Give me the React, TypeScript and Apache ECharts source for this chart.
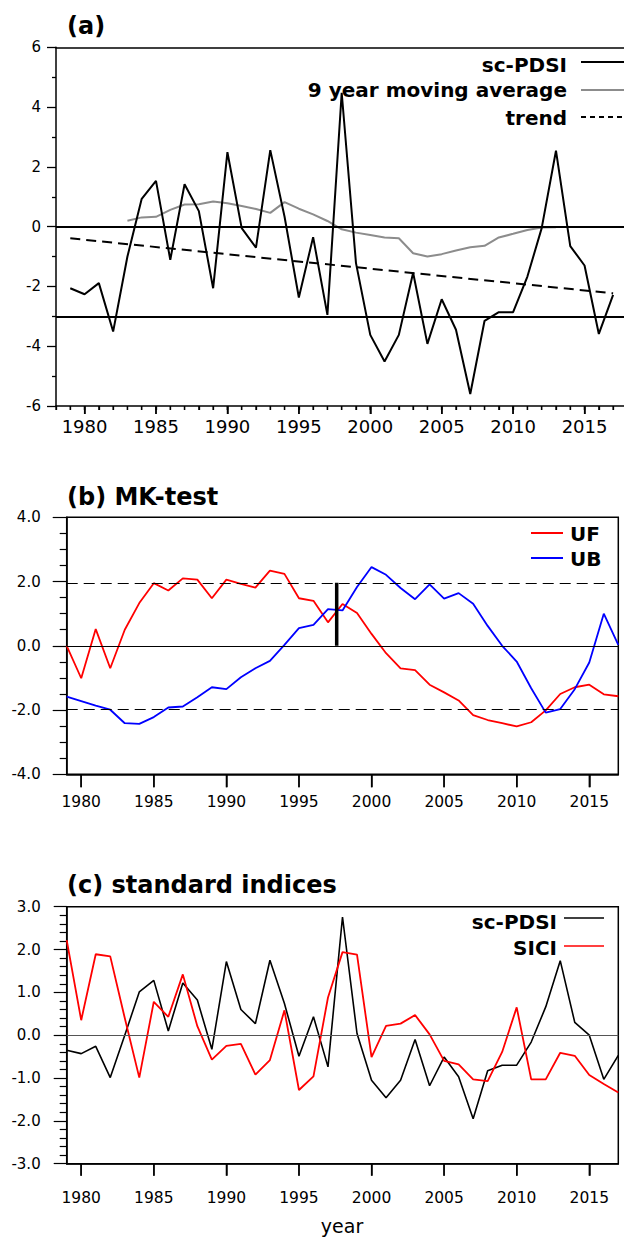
import React, { useEffect, useRef } from "react";
import * as echarts from "echarts";

// ---------- data ----------
const years = [
  1979, 1980, 1981, 1982, 1983, 1984, 1985, 1986, 1987, 1988, 1989, 1990, 1991,
  1992, 1993, 1994, 1995, 1996, 1997, 1998, 1999, 2000, 2001, 2002, 2003, 2004,
  2005, 2006, 2007, 2008, 2009, 2010, 2011, 2012, 2013, 2014, 2015, 2016, 2017,
];
const majorYears = [1980, 1985, 1990, 1995, 2000, 2005, 2010, 2015];
// minor tick positions of panel (a) (axis spans 1978-2018)
const tickYearsA = [1978, ...years];

// (a) sc-PDSI
const pdsiA = [
  -2.06, -2.26, -1.89, -3.51, -1.0, 0.93, 1.53, -1.11, 1.42, 0.52, -2.06, 2.49, -0.05,
  -0.7, 2.56, 0.33, -2.37, -0.35, -2.95, 4.48, -1.22, -3.62, -4.51, -3.62, -1.54, -3.92,
  -2.43, -3.45, -5.6, -3.15, -2.86, -2.86, -1.67, -0.05, 2.54, -0.65, -1.3, -3.59, -2.28,
];
// (a) 9 year moving average (1983-2013)
const movingAvg = [
  null, null, null, null, 0.2, 0.31, 0.33, 0.56, 0.74, 0.75, 0.84, 0.78, 0.69,
  0.59, 0.46, 0.82, 0.6, 0.41, 0.19, -0.09, -0.2, -0.28, -0.36, -0.39, -0.89, -1.0,
  -0.92, -0.8, -0.69, -0.64, -0.36, -0.24, -0.11, -0.03, -0.02, null, null, null, null,
];
const trendYears = [1979, 2017];
const trendValues = [-0.39, -2.23];
const refLinesA = [0, -3];

// (b) MK-test
const uf = [
  0.0, -1.01, 0.52, -0.7, 0.5, 1.33, 1.95, 1.72, 2.1, 2.06, 1.48, 2.06, 1.93,
  1.81, 2.34, 2.24, 1.48, 1.4, 0.73, 1.3, 1.02, 0.37, -0.23, -0.7, -0.76, -1.21,
  -1.45, -1.7, -2.16, -2.31, -2.41, -2.51, -2.38, -2.01, -1.5, -1.29, -1.21, -1.51, -1.57,
];
const ub = [
  -1.58, -1.72, -1.86, -1.99, -2.41, -2.43, -2.22, -1.92, -1.89, -1.6, -1.29, -1.35, -0.98,
  -0.7, -0.47, 0.03, 0.55, 0.65, 1.14, 1.1, 1.83, 2.45, 2.21, 1.8, 1.45, 1.91,
  1.47, 1.64, 1.31, 0.62, 0.0, -0.49, -1.32, -2.08, -1.97, -1.35, -0.52, 1.0, 0.03,
];
const sigLevels = [1.96, -1.96];
const changeYear = 1997.6;
const changeRange = [0, 1.96];

// (c) standard indices
const pdsiC = [
  -0.35, -0.43, -0.26, -0.99, 0.0, 1.01, 1.28, 0.1, 1.22, 0.82, -0.33, 1.72, 0.6,
  0.27, 1.75, 0.74, -0.49, 0.43, -0.74, 2.76, 0.04, -1.05, -1.46, -1.05, -0.1, -1.18,
  -0.51, -0.97, -1.95, -0.83, -0.7, -0.7, -0.16, 0.66, 1.74, 0.3, 0.0, -1.03, -0.47,
];
const sici = [
  2.22, 0.35, 1.89, 1.84, 0.4, -0.99, 0.78, 0.43, 1.42, 0.21, -0.57, -0.25, -0.2,
  -0.92, -0.58, 0.58, -1.28, -0.96, 0.88, 1.94, 1.88, -0.51, 0.22, 0.27, 0.47, 0.02,
  -0.6, -0.68, -1.03, -1.07, -0.39, 0.65, -1.03, -1.03, -0.41, -0.48, -0.93, -1.14, -1.34,
];

// ---------- helpers ----------
const FONT = "DejaVu Sans";
const pairs = (vals: (number | null)[]) => years.map((y, i) => [y, vals[i]]);

const txt = (text: string, x: number, y: number, size: number, weight: string, align: string) => ({
  type: "text", x, y, silent: true,
  style: {
    text, fontFamily: FONT, fontSize: size, fontWeight: weight, fill: "#000",
    align, verticalAlign: "middle",
  },
});
const seg = (x1: number, y1: number, x2: number, y2: number, color: string, width: number, dash?: number[]) => ({
  type: "line", silent: true, z: 10,
  shape: { x1, y1, x2, y2 },
  style: { stroke: color, lineWidth: width, lineDash: dash },
});

const baseGraphic: any[] = [
  txt("(a)", 67, 26, 24, "bold", "left"),
  txt("(b) MK-test", 67, 497, 24, "bold", "left"),
  txt("(c) standard indices", 67, 885, 24, "bold", "left"),
  // legend (a)
  txt("sc-PDSI", 567, 64.5, 20, "bold", "right"),
  txt("9 year moving average", 567, 90, 20, "bold", "right"),
  txt("trend", 567, 118, 20, "bold", "right"),
  seg(581, 62, 632, 62, "#000", 2),
  seg(581, 90, 632, 90, "#8c8c8c", 2),
  seg(581, 117, 632, 117, "#000", 2, [5, 4]),
  // legend (b)
  seg(531, 533, 563, 533, "#ff0000", 2),
  seg(531, 558, 563, 558, "#0000ff", 2),
  txt("UF", 570, 534, 20, "bold", "left"),
  txt("UB", 570, 559, 20, "bold", "left"),
  // legend (c)
  txt("sc-PDSI", 557, 922, 20, "bold", "right"),
  txt("SICI", 557, 948, 20, "bold", "right"),
  seg(564, 918, 604, 918, "#000", 1.6),
  seg(564, 946, 604, 946, "#ff0000", 1.6),
  // x name
  txt("year", 342, 1226, 19, "normal", "center"),
];

function buildOption() {
  const axisLine = { show: true, onZero: false, lineStyle: { color: "#000", width: 1.5 } };
  const gridBase = {
    show: true, borderColor: "#000", borderWidth: 1.5,
    outerBoundsMode: "none", containLabel: false,
  };

  const grids = [
    { ...gridBase, show: false, left: 56, top: 47.3, width: 571.4, height: 358.7 },
    { ...gridBase, left: 66.7, top: 517.3, width: 551.6, height: 257 },
    { ...gridBase, left: 66.7, top: 906.7, width: 551.6, height: 257 },
  ];

  const xAxis = (gridIndex: number, min: number, max: number, fontSize: number, margin: number, tickLen: number, position = "bottom", labels = true) => ({
    gridIndex, type: "value", min, max, position,
    axisLine, splitLine: { show: false },
    axisTick: { show: labels, length: tickLen, customValues: majorYears, lineStyle: { color: "#000", width: 1.5 } },
    axisLabel: {
      show: labels, customValues: majorYears, formatter: (v: number) => String(v),
      fontFamily: FONT, fontSize, color: "#000", margin,
    },
  });

  const xAxes: any[] = [
    xAxis(0, 1978, 2018, 18, 11, 8),
    xAxis(0, 1978, 2018, 18, 11, 0, "top", false),
    xAxis(1, 1979, 2017, 15.5, 20, 13),
    xAxis(2, 1979, 2017, 15.5, 26, 12),
    // (a) yearly minor ticks
    {
      gridIndex: 0, type: "value", min: 1978, max: 2018, interval: 1, position: "bottom",
      axisLine: { show: false, onZero: false }, splitLine: { show: false },
      axisTick: { show: true, length: 4, lineStyle: { color: "#000", width: 1.3 } },
      axisLabel: { show: false },
    },
  ];

  const yAxes: any[] = [
    {
      gridIndex: 0, type: "value", min: -6, max: 6, interval: 2,
      axisLine, splitLine: { show: false },
      axisTick: { show: true, length: 9, lineStyle: { color: "#000", width: 1.3 } },
      minorTick: { show: true, splitNumber: 2, length: 4, lineStyle: { color: "#000", width: 1.3 } },
      minorSplitLine: { show: false },
      axisLabel: { formatter: (v: number) => String(v), fontFamily: FONT, fontSize: 15, color: "#000", margin: 15 },
    },
    {
      gridIndex: 1, type: "value", min: -4, max: 4, interval: 2,
      axisLine, splitLine: { show: false },
      axisTick: { show: true, length: 14, lineStyle: { color: "#000", width: 1.2 } },
      minorTick: { show: true, splitNumber: 4, length: 7, lineStyle: { color: "#000", width: 1.2 } },
      minorSplitLine: { show: false },
      axisLabel: { formatter: (v: number) => v.toFixed(1), fontFamily: FONT, fontSize: 15, color: "#000", margin: 26 },
    },
    {
      gridIndex: 2, type: "value", min: -3, max: 3, interval: 1,
      axisLine, splitLine: { show: false },
      axisTick: { show: true, length: 13, lineStyle: { color: "#000", width: 1.2 } },
      minorTick: { show: true, splitNumber: 5, length: 7, lineStyle: { color: "#000", width: 1.2 } },
      minorSplitLine: { show: false },
      axisLabel: { formatter: (v: number) => v.toFixed(1), fontFamily: FONT, fontSize: 15, color: "#000", margin: 26 },
    },
  ];

  const noSym = { symbol: "none", showSymbol: false };
  const mkLine = (vals: number[], color: string, width: number, type: any) => ({
    silent: true, symbol: "none", animation: false,
    label: { show: false },
    lineStyle: { color, width, type },
    emphasis: { disabled: true },
    data: vals.map((v) => ({ yAxis: v })),
  });

  const series: any[] = [
    // (a)
    {
      type: "line", name: "sc-PDSI", xAxisIndex: 0, yAxisIndex: 0, ...noSym,
      data: pairs(pdsiA), lineStyle: { color: "#000", width: 2 }, z: 3,
      markLine: mkLine(refLinesA, "#000", 2, "solid"),
    },
    {
      type: "line", name: "9 year moving average", xAxisIndex: 0, yAxisIndex: 0, ...noSym,
      data: pairs(movingAvg), connectNulls: false, lineStyle: { color: "#8c8c8c", width: 2 }, z: 2,
    },
    {
      type: "line", name: "trend", xAxisIndex: 0, yAxisIndex: 0, ...noSym,
      data: trendYears.map((y, i) => [y, trendValues[i]]),
      lineStyle: { color: "#000", width: 2, type: [10, 6] }, z: 2,
    },
    // (b)
    {
      type: "line", name: "UF", xAxisIndex: 2, yAxisIndex: 1, ...noSym,
      data: pairs(uf), lineStyle: { color: "#ff0000", width: 1.8 }, z: 3,
      markLine: mkLine(sigLevels, "#000", 1.2, [11, 6]),
    },
    {
      type: "line", name: "UB", xAxisIndex: 2, yAxisIndex: 1, ...noSym,
      data: pairs(ub), lineStyle: { color: "#0000ff", width: 1.8 }, z: 3,
      markLine: mkLine([0], "#000", 1, "solid"),
    },
    {
      type: "line", name: "change", xAxisIndex: 2, yAxisIndex: 1, ...noSym,
      data: changeRange.map((v) => [changeYear, v]),
      lineStyle: { color: "#000", width: 3.5 }, z: 4,
    },
    // (c)
    {
      type: "line", name: "sc-PDSI (c)", xAxisIndex: 3, yAxisIndex: 2, ...noSym,
      data: pairs(pdsiC), lineStyle: { color: "#000", width: 1.6 }, z: 3,
      markLine: mkLine([0], "#555", 1.2, "solid"),
    },
    {
      type: "line", name: "SICI", xAxisIndex: 3, yAxisIndex: 2, ...noSym,
      data: pairs(sici), lineStyle: { color: "#ff0000", width: 1.8 }, z: 3,
    },
  ];

  return {
    animation: false,
    textStyle: { fontFamily: FONT },
    grid: grids,
    xAxis: xAxes,
    yAxis: yAxes,
    series,
    graphic: baseGraphic,
  };
}

// x-axis ticks also placed through the axes' own scales (convertToPixel)
const tickSpecs = [
  { xAxisIndex: 0, yAxisIndex: 0, yMin: -6, ticks: tickYearsA, len: 4 },
  { xAxisIndex: 0, yAxisIndex: 0, yMin: -6, ticks: majorYears, len: 8 },
  { xAxisIndex: 2, yAxisIndex: 1, yMin: -4, ticks: majorYears, len: 13 },
  { xAxisIndex: 3, yAxisIndex: 2, yMin: -3, ticks: majorYears, len: 12 },
];

export default function App() {
  const ref = useRef<HTMLDivElement>(null);
  useEffect(() => {
    document.body.style.margin = "0";
    if (!ref.current) return;
    const chart = echarts.init(ref.current, undefined, { renderer: "svg", width: 624, height: 1238 });
    chart.setOption(buildOption() as any);
    const ticks: any[] = [];
    tickSpecs.forEach((s) => {
      const y0 = Number(chart.convertToPixel({ yAxisIndex: s.yAxisIndex } as any, s.yMin));
      s.ticks.forEach((yr) => {
        const x = Number(chart.convertToPixel({ xAxisIndex: s.xAxisIndex } as any, yr));
        if (isFinite(x) && isFinite(y0)) ticks.push(seg(x, y0, x, y0 + s.len, "#000", 1.3));
      });
    });
    chart.setOption({ graphic: [...baseGraphic, ...ticks] } as any);
    return () => chart.dispose();
  }, []);
  return <div ref={ref} style={{ width: 624, height: 1238, overflow: "hidden", background: "#fff" }} />;
}
